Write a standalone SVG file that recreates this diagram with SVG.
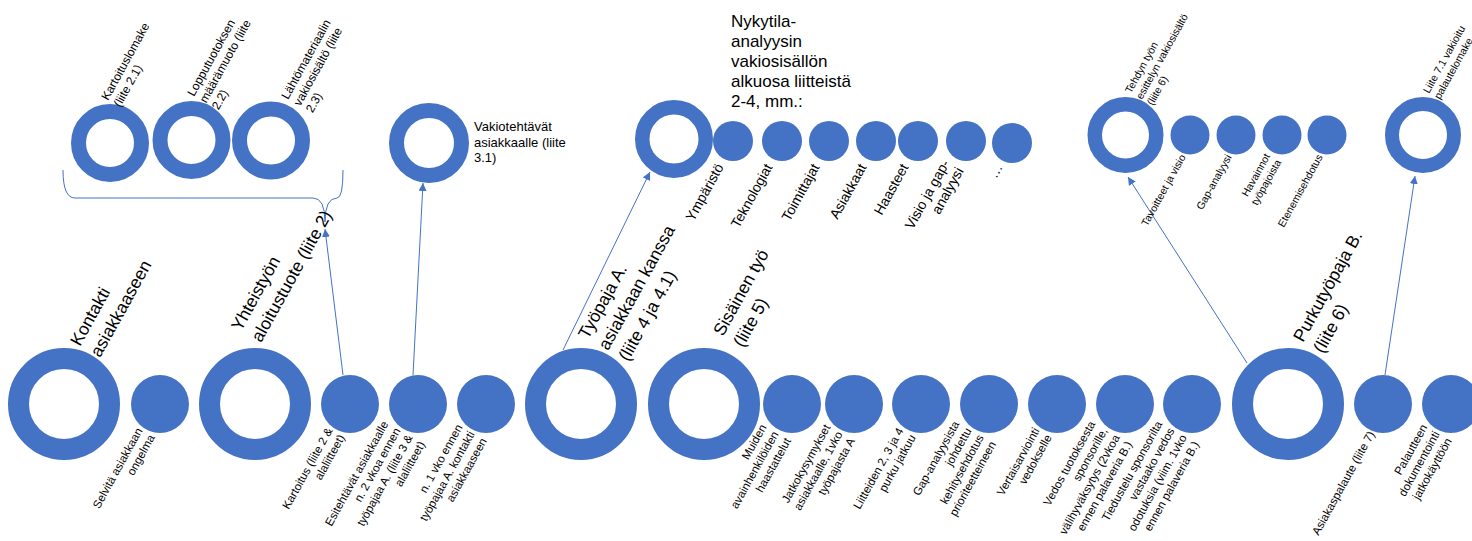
<svg xmlns="http://www.w3.org/2000/svg" width="1472" height="541" viewBox="0 0 1472 541">
<style>
text{font-family:"Liberation Sans",Arial,sans-serif;fill:#000}
.ring{fill:none;stroke:#4472C4}
.dot{fill:#4472C4}
.con{fill:none;stroke:#4472C4;stroke-width:1}
.big{font-size:17.5px}
.bl{font-size:11.6px;text-anchor:end}
.mt{font-size:14px;text-anchor:end}
.rt{font-size:10.5px;text-anchor:end}
.tl{font-size:12px}
.tr{font-size:10.5px}
</style>
<defs>
<marker id="ah" viewBox="0 0 10 10" refX="10" refY="5" markerWidth="8" markerHeight="8" markerUnits="userSpaceOnUse" orient="auto">
<path d="M0,0 L10,5 L0,10 z" fill="#4472C4"/>
</marker>
</defs>
<g id="connectors">
<path class="con" d="M63,170 Q63,198 75,198 L313,198 Q325,198 325,222 Q325,198 337,198 Q343,198 343,170"/>
<line class="con" x1="343" y1="375" x2="325" y2="229" marker-end="url(#ah)"/>
<line class="con" x1="413" y1="375" x2="423" y2="183" marker-end="url(#ah)"/>
<line class="con" x1="563" y1="350" x2="650" y2="172" marker-end="url(#ah)"/>
<line class="con" x1="1247" y1="363" x2="1128" y2="177" marker-end="url(#ah)"/>
<line class="con" x1="1385" y1="375" x2="1415" y2="176" marker-end="url(#ah)"/>
</g>
<g id="n-kontakti"><circle class="ring" cx="64" cy="404" r="45.5" stroke-width="21"/>
<text class="big" transform="translate(80,347) rotate(-61)"><tspan x="0" y="0">Kontakti</tspan><tspan x="0" y="23">asiakkaaseen</tspan></text></g>
<g id="n-selvita"><circle class="dot" cx="160" cy="404" r="29"/>
<text class="bl" transform="translate(149,434) rotate(-61)"><tspan x="0" y="-7">Selvitä asiakkaan</tspan><tspan x="0" y="7">ongelma</tspan></text></g>
<g id="n-yhteistyo"><circle class="ring" cx="255" cy="404" r="45.5" stroke-width="21"/>
<text class="big" transform="translate(241,332) rotate(-61)"><tspan x="0" y="0">Yhteistyön</tspan><tspan x="0" y="23">aloitustuote (liite 2)</tspan></text></g>
<g id="n-kartoitus"><circle class="dot" cx="350" cy="404" r="29"/>
<text class="bl" transform="translate(339,434) rotate(-61)"><tspan x="0" y="-7">Kartoitus (liite 2 &amp;</tspan><tspan x="0" y="7">alaliitteet)</tspan></text></g>
<g id="n-esitehtavat"><circle class="dot" cx="418" cy="404" r="29"/>
<text class="bl" transform="translate(407,434) rotate(-61)"><tspan x="0" y="-21">Esitehtävät asiakkaalle</tspan><tspan x="0" y="-7">n. 2 vkoa ennen</tspan><tspan x="0" y="7">työpajaa A. (liite 3 &amp;</tspan><tspan x="0" y="21">alaliitteet)</tspan></text></g>
<g id="n-1vko"><circle class="dot" cx="486" cy="404" r="29"/>
<text class="bl" transform="translate(475,434) rotate(-61)"><tspan x="0" y="-14">n. 1 vko ennen</tspan><tspan x="0" y="0">työpajaa A. kontakti</tspan><tspan x="0" y="14">asiakkaaseen</tspan></text></g>
<g id="n-tyopaja"><circle class="ring" cx="581" cy="404" r="45.5" stroke-width="21"/>
<text class="big" transform="translate(588,340) rotate(-61)"><tspan x="0" y="0">Työpaja A.</tspan><tspan x="0" y="23">asiakkaan kanssa</tspan><tspan x="0" y="46">(liite 4 ja 4.1)</tspan></text></g>
<g id="n-sisainen"><circle class="ring" cx="704" cy="404" r="45.5" stroke-width="21"/>
<text class="big" transform="translate(723,337) rotate(-61)"><tspan x="0" y="0">Sisäinen työ</tspan><tspan x="0" y="23">(liite 5)</tspan></text></g>
<g id="n-muiden"><circle class="dot" cx="792" cy="404" r="29"/>
<text class="bl" transform="translate(779,434) rotate(-61)"><tspan x="0" y="-14">Muiden</tspan><tspan x="0" y="0">avainhenkilöiden</tspan><tspan x="0" y="14">haastattelut</tspan></text></g>
<g id="n-jatko"><circle class="dot" cx="854" cy="404" r="29"/>
<text class="bl" transform="translate(843,434) rotate(-61)"><tspan x="0" y="-14">Jatkokysymykset</tspan><tspan x="0" y="0">asiakkaalle, 1vko</tspan><tspan x="0" y="14">työpajasta A</tspan></text></g>
<g id="n-liitteiden"><circle class="dot" cx="921" cy="404" r="29"/>
<text class="bl" transform="translate(910,434) rotate(-61)"><tspan x="0" y="-7">Liitteiden 2, 3 ja 4</tspan><tspan x="0" y="7">purku jatkuu</tspan></text></g>
<g id="n-gap"><circle class="dot" cx="989" cy="404" r="29"/>
<text class="bl" transform="translate(978,434) rotate(-61)"><tspan x="0" y="-21">Gap-analyysista</tspan><tspan x="0" y="-7">johdettu</tspan><tspan x="0" y="7">kehitysehdotus</tspan><tspan x="0" y="21">prioriteetteineen</tspan></text></g>
<g id="n-vertais"><circle class="dot" cx="1057" cy="404" r="29"/>
<text class="bl" transform="translate(1046,434) rotate(-61)"><tspan x="0" y="-7">Vertaisarviointi</tspan><tspan x="0" y="7">vedokselle</tspan></text></g>
<g id="n-vedos"><circle class="dot" cx="1125" cy="404" r="29"/>
<text class="bl" transform="translate(1114,434) rotate(-61)"><tspan x="0" y="-21">Vedos tuotoksesta</tspan><tspan x="0" y="-7">sponsorille,</tspan><tspan x="0" y="7">välihyväksytys (2vkoa</tspan><tspan x="0" y="21">ennen palaveria B.)</tspan></text></g>
<g id="n-tiedustelu"><circle class="dot" cx="1192" cy="404" r="29"/>
<text class="bl" transform="translate(1181,434) rotate(-61)"><tspan x="0" y="-21">Tiedustelu sponsorilta</tspan><tspan x="0" y="-7">vastaako vedos</tspan><tspan x="0" y="7">odotuksia (viim. 1vko</tspan><tspan x="0" y="21">ennen palaveria B.)</tspan></text></g>
<g id="n-purku"><circle class="ring" cx="1288" cy="404" r="45.5" stroke-width="21"/>
<text class="big" transform="translate(1303,343) rotate(-61)"><tspan x="0" y="0">Purkutyöpaja B.</tspan><tspan x="0" y="23">(liite 6)</tspan></text></g>
<g id="n-asiakaspalaute"><circle class="dot" cx="1383" cy="404" r="29"/>
<text class="bl" transform="translate(1375,434) rotate(-61)"><tspan x="0" y="0">Asiakaspalaute (liite 7)</tspan></text></g>
<g id="n-palautteen"><circle class="dot" cx="1451" cy="404" r="29"/>
<text class="bl" transform="translate(1440,434) rotate(-61)"><tspan x="0" y="-14">Palautteen</tspan><tspan x="0" y="0">dokumentointi</tspan><tspan x="0" y="14">jatkokäyttöön</tspan></text></g>
<g id="n-kartoituslomake"><circle class="ring" cx="110" cy="143" r="31.5" stroke-width="15"/>
<text class="tl" transform="translate(108,101) rotate(-61)"><tspan x="0" y="0">Kartoituslomake</tspan><tspan x="0" y="14">(liite 2.1)</tspan></text></g>
<g id="n-lopputuotos"><circle class="ring" cx="191.5" cy="140" r="31.5" stroke-width="15"/>
<text class="tl" transform="translate(194,97) rotate(-61)"><tspan x="0" y="0">Lopputuotoksen</tspan><tspan x="0" y="14">määrämuoto (liite</tspan><tspan x="0" y="28">2.2)</tspan></text></g>
<g id="n-lahtomateriaali"><circle class="ring" cx="271" cy="140.5" r="31.5" stroke-width="15"/>
<text class="tl" transform="translate(288,100) rotate(-61)"><tspan x="0" y="0">Lähtömateriaalin</tspan><tspan x="0" y="14">vakiosisältö (liite</tspan><tspan x="0" y="28">2.3)</tspan></text></g>
<g id="n-vakiotehtavat"><circle class="ring" cx="429" cy="143" r="32.5" stroke-width="15"/>
<text font-size="13"><tspan x="474" y="130.5">Vakiotehtävät</tspan><tspan x="474" y="146.5">asiakkaalle (liite</tspan><tspan x="474" y="162">3.1)</tspan></text></g>
<g id="n-nykytila"><circle class="ring" cx="674" cy="139" r="31.75" stroke-width="14.5"/>
<text font-size="17"><tspan x="731" y="27">Nykytila-</tspan><tspan x="731" y="47">analyysin</tspan><tspan x="731" y="67">vakiosisällön</tspan><tspan x="731" y="87">alkuosa liitteistä</tspan><tspan x="731" y="107">2-4, mm.:</tspan></text></g>
<g id="n-ymparisto"><circle class="dot" cx="733" cy="141" r="20"/>
<text class="mt" transform="translate(724,167) rotate(-61)">Ympäristö</text></g>
<g id="n-teknologiat"><circle class="dot" cx="782" cy="141" r="20"/>
<text class="mt" transform="translate(773,167) rotate(-61)">Teknologiat</text></g>
<g id="n-toimittajat"><circle class="dot" cx="829" cy="141" r="20"/>
<text class="mt" transform="translate(820,167) rotate(-61)">Toimittajat</text></g>
<g id="n-asiakkaat"><circle class="dot" cx="876" cy="141" r="20"/>
<text class="mt" transform="translate(867,167) rotate(-61)">Asiakkaat</text></g>
<g id="n-haasteet"><circle class="dot" cx="918" cy="141" r="20"/>
<text class="mt" transform="translate(909,167) rotate(-61)">Haasteet</text></g>
<g id="n-visio"><circle class="dot" cx="966" cy="141" r="20"/>
<text class="mt" transform="translate(957,167) rotate(-61)"><tspan x="0" y="-8">Visio ja gap-</tspan><tspan x="0" y="8">analyysi</tspan></text></g>
<g id="n-etc"><circle class="dot" cx="1012" cy="143" r="20"/>
<text class="mt" transform="translate(1003,167) rotate(-61)">…</text></g>
<g id="n-tehdyn"><circle class="ring" cx="1125.5" cy="135" r="30.75" stroke-width="14.5"/>
<text class="tr" transform="translate(1131,94) rotate(-61)"><tspan x="0" y="0">Tehdyn työn</tspan><tspan x="0" y="12.5">esittelyn vakiosisältö</tspan><tspan x="0" y="25">(liite 6)</tspan></text></g>
<g id="n-tavoitteet"><circle class="dot" cx="1190" cy="135" r="19.5"/>
<text class="rt" transform="translate(1186,157) rotate(-61)">Tavoitteet ja visio</text></g>
<g id="n-gapanalyysi"><circle class="dot" cx="1236" cy="135" r="19.5"/>
<text class="rt" transform="translate(1232,157) rotate(-61)">Gap-analyysi</text></g>
<g id="n-havainnot"><circle class="dot" cx="1282" cy="135" r="19.5"/>
<text class="rt" transform="translate(1276,159) rotate(-61)"><tspan x="0" y="-6.25">Havainnot</tspan><tspan x="0" y="6.25">työpajoista</tspan></text></g>
<g id="n-eteneminen"><circle class="dot" cx="1327" cy="135" r="19.5"/>
<text class="rt" transform="translate(1323,157) rotate(-61)">Etenemisehdotus</text></g>
<g id="n-liite71"><circle class="ring" cx="1423" cy="135" r="31" stroke-width="14"/>
<text class="tr" transform="translate(1429,94) rotate(-61)"><tspan x="0" y="0">Liite 7.1 vakioitu</tspan><tspan x="0" y="12.5">palautelomake</tspan></text></g>
</svg>
